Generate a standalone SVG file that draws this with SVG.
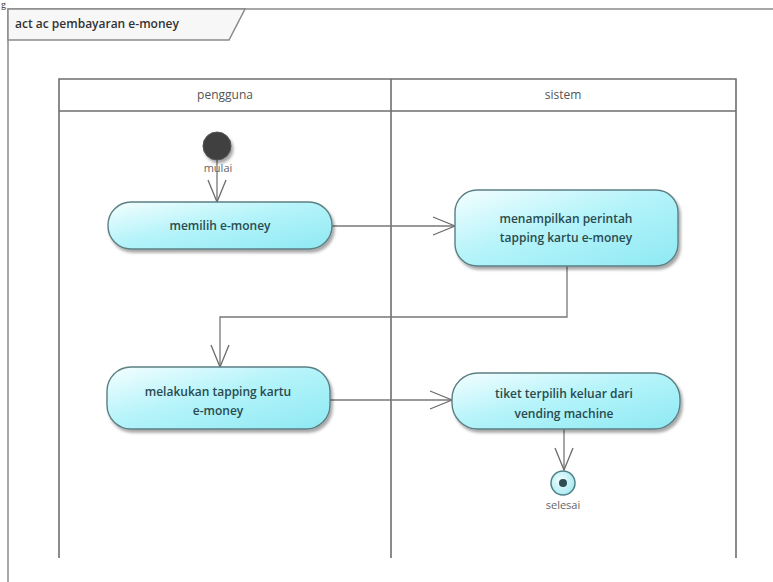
<svg xmlns="http://www.w3.org/2000/svg" width="773" height="582" viewBox="0 0 773 582">
  <defs>
    <linearGradient id="actFill" x1="0" y1="0" x2="1" y2="1">
      <stop offset="0" stop-color="#f4feff"/>
      <stop offset="0.45" stop-color="#b6f4fa"/>
      <stop offset="1" stop-color="#8ee9f3"/>
    </linearGradient>
    <radialGradient id="finalFill" cx="0.4" cy="0.4" r="0.7">
      <stop offset="0" stop-color="#f2feff"/>
      <stop offset="1" stop-color="#9fe8f0"/>
    </radialGradient>
    <filter id="shadow" x="-10%" y="-20%" width="130%" height="150%">
      <feGaussianBlur in="SourceAlpha" stdDeviation="1.6"/>
      <feOffset dx="2" dy="2.5" result="b"/>
      <feComponentTransfer><feFuncA type="linear" slope="0.35"/></feComponentTransfer>
      <feMerge><feMergeNode/><feMergeNode in="SourceGraphic"/></feMerge>
    </filter>
    <marker id="open" viewBox="0 0 24 20" refX="23" refY="10" markerWidth="24" markerHeight="20" markerUnits="userSpaceOnUse" orient="auto">
      <path d="M1,1 L23,10 L1,19" fill="none" stroke="#6b6b6b" stroke-width="1.3"/>
    </marker>
  </defs>
  <style>
    .frame { fill: none; stroke: #8a8a8a; stroke-width: 1.5; }
    .lane { fill: none; stroke: #6e6e6e; stroke-width: 1.6; }
    .act { fill: url(#actFill); stroke: #5c7f84; stroke-width: 1.4; filter: url(#shadow); }
    .conn { fill: none; stroke: #777; stroke-width: 1.3; }
    .lbl { font-family: "Open Sans", "Noto Sans", "Liberation Sans", sans-serif; font-size: 12px; font-weight: 600; fill: #2a4b4f; text-anchor: middle; }
    .head { font-family: "Open Sans", "Noto Sans", "Liberation Sans", sans-serif; font-size: 12px; fill: #555; text-anchor: middle; }
    .small { font-family: "Open Sans", "Noto Sans", "Liberation Sans", sans-serif; font-size: 11px; fill: #666; text-anchor: middle; }
    .title { font-family: "Open Sans", "Noto Sans", "Liberation Sans", sans-serif; font-size: 12px; font-weight: 600; fill: #333; }
  </style>

  <rect x="0" y="0" width="773" height="582" fill="#ffffff"/>

  <!-- stray letter at the top-left edge -->
  <text x="1" y="8" font-family="Liberation Serif, serif" font-size="10" fill="#333">g</text>

  <!-- diagram frame with name tab -->
  <g id="frame">
    <path class="frame" d="M8,582 L8,9 L773,9"/>
    <path d="M8,9 L245,9 L229,40 L8,40 Z" fill="#f7f7f7" stroke="#8a8a8a" stroke-width="1.5"/>
    <text class="title" x="15" y="28">act ac pembayaran e-money</text>
  </g>

  <!-- swimlanes -->
  <g id="lanes">
    <path class="lane" d="M59,558 L59,79 L736,79 L736,558"/>
    <line class="lane" x1="59" y1="111" x2="736" y2="111"/>
    <line class="lane" x1="391" y1="79" x2="391" y2="558"/>
    <text class="head" x="225" y="99">pengguna</text>
    <text class="head" x="563" y="99">sistem</text>
  </g>

  <!-- connectors -->
  <g id="connectors">
    <line class="conn" x1="217" y1="159" x2="217" y2="202" marker-end="url(#open)"/>
    <line class="conn" x1="332" y1="226" x2="455" y2="226" marker-end="url(#open)"/>
    <polyline class="conn" points="567,266 567,317 220,317 220,367" marker-end="url(#open)"/>
    <line class="conn" x1="330" y1="400" x2="452" y2="400" marker-end="url(#open)"/>
    <line class="conn" x1="564" y1="429" x2="564" y2="470" marker-end="url(#open)"/>
  </g>

  <!-- initial node -->
  <g id="start">
    <circle cx="217" cy="146" r="14" fill="#3f3f3f" stroke="#555" stroke-width="1" filter="url(#shadow)"/>
    <text class="small" x="218" y="172">mulai</text>
  </g>

  <g id="memilih">
    <rect class="act" x="108" y="202" width="224" height="47" rx="23" ry="23"/>
    <text class="lbl" x="220" y="230">memilih e-money</text>
  </g>

  <g id="menampilkan">
    <rect class="act" x="455" y="190" width="223" height="76" rx="22" ry="22"/>
    <text class="lbl" x="566" y="223">menampilkan perintah</text>
    <text class="lbl" x="566" y="242">tapping kartu e-money</text>
  </g>

  <g id="melakukan">
    <rect class="act" x="107" y="367" width="223" height="62" rx="24" ry="24"/>
    <text class="lbl" x="218" y="396">melakukan tapping kartu</text>
    <text class="lbl" x="218" y="415">e-money</text>
  </g>

  <g id="tiket">
    <rect class="act" x="452" y="373" width="228" height="56" rx="26" ry="26"/>
    <text class="lbl" x="564" y="398">tiket terpilih keluar dari</text>
    <text class="lbl" x="564" y="418">vending machine</text>
  </g>

  <!-- final node -->
  <g id="end">
    <circle cx="563" cy="483" r="12" fill="url(#finalFill)" stroke="#4f8088" stroke-width="1.5"/>
    <circle cx="563" cy="483" r="4" fill="#2f4f52"/>
    <text class="small" x="563" y="509">selesai</text>
  </g>
</svg>
